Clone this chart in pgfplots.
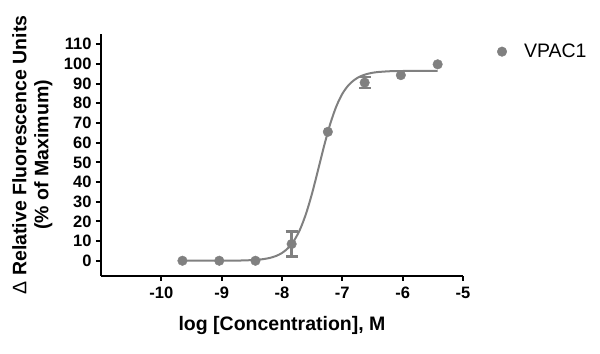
\documentclass[border=0pt]{standalone}
\usepackage{pgfplots}
\pgfplotsset{compat=1.18}
\usepackage{fontspec}
\setmainfont{Liberation Sans}
\definecolor{pt}{RGB}{128,128,128}
\begin{document}
\begin{tikzpicture}
\begin{axis}[
  scale only axis,
  width=362bp, height=241.7bp,
  xmin=-11, xmax=-5, ymin=-7.6, ymax=115.2,
  axis lines=left,
  axis line style={-, line width=2bp, black},
  xtick={-10,-9,-8,-7,-6,-5},
  ytick={0,10,...,110},
  tick align=outside,
  major tick length=5bp,
  tick style={line width=2bp, black},
  /pgf/number format/assume math mode=true,
  ticklabel style={font=\fontsize{16.5bp}{19bp}\selectfont\bfseries},
  xticklabel style={yshift=-3bp},
  yticklabel style={xshift=-1bp},
  xlabel={log [Concentration], M},
  ylabel={{\mdseries Δ} Relative Fluorescence Units\\(\% of Maximum)},
  every axis x label/.style={at={(axis description cs:0.5,-0.204)}, anchor=center, font=\fontsize{19.5bp}{23bp}\selectfont\bfseries},
  every axis y label/.style={at={(axis description cs:-0.19,0.5)}, rotate=90, anchor=center, align=center, font=\fontsize{19.5bp}{22bp}\selectfont\bfseries},
  clip=false,
  legend style={at={(axis description cs:1.094,0.927)}, anchor=west, draw=none, fill=none, inner sep=0pt, font=\fontsize{19.5bp}{23bp}\selectfont},
  legend image code/.code={\draw[#1] plot coordinates {(0bp,0bp)}; \path[draw=none,fill=none] (0bp,0bp) -- (20bp,0bp);},
  legend cell align=left,
]
\addplot[pt, line width=2bp, smooth, forget plot] coordinates {
(-9.65,0) (-9.2,0.01) (-8.8,0.07) (-8.6,0.19) (-8.4,0.52) (-8.3,0.87) (-8.2,1.45) (-8.1,2.40) (-8.0,3.94) (-7.9,6.41) (-7.8,10.24) (-7.7,15.98) (-7.6,24.06) (-7.5,34.4) (-7.4,46.4) (-7.3,58.6) (-7.2,69.6) (-7.1,78.4) (-7.0,84.8) (-6.9,89.1) (-6.8,91.9) (-6.7,93.7) (-6.6,94.8) (-6.5,95.5) (-6.4,95.9) (-6.2,96.3) (-6.0,96.4) (-5.7,96.5) (-5.42,96.5)
};
\addplot[pt, draw=none, line width=2.6bp, mark=none, forget plot,
  error bars/.cd, y dir=both, y explicit,
  error bar style={line width=2.6bp, draw=pt, solid},
  error mark options={rotate=90, mark size=6bp, line width=2.6bp, draw=pt}]
coordinates {
(-7.84,8.5) +- (0,6.3)
(-6.63,90.5) +- (0,2.8)
};
\addplot[pt, only marks, mark=*, mark size=4.8bp, mark options={fill=pt, draw=pt}]
coordinates {
(-9.65,0)
(-9.04,0)
(-8.44,0)
(-7.84,8.5)
(-7.24,65.5)
(-6.63,90.5)
(-6.03,94.3)
(-5.42,99.8)
};
\addlegendentry{VPAC1}
\end{axis}
\pgfresetboundingbox
\path (current axis.south west) ++(-101bp,-78.3bp) rectangle ++(600bp,354bp);
\end{tikzpicture}
\end{document}
